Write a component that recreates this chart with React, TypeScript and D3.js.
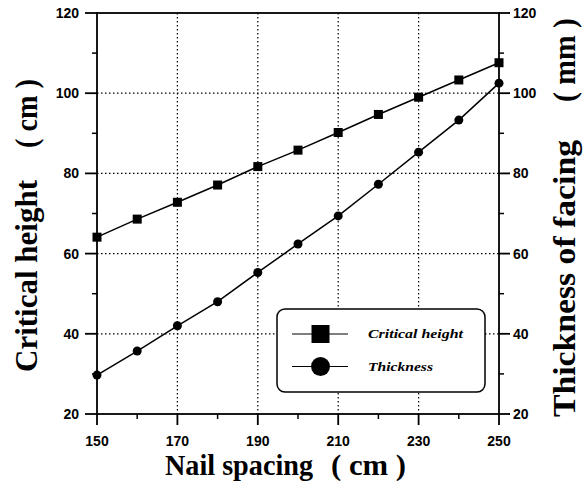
import React from "react";
import * as d3 from "d3";

const spacing = [150, 160, 170, 180, 190, 200, 210, 220, 230, 240, 250];
const criticalHeight = [64.1, 68.6, 72.8, 77.1, 81.7, 85.8, 90.2, 94.7, 99.0, 103.3, 107.6];
const thickness = [29.7, 35.7, 42.0, 48.0, 55.3, 62.4, 69.4, 77.3, 85.3, 93.3, 102.5];
const xMajor = [150, 170, 190, 210, 230, 250];
const xMinor = [160, 180, 200, 220, 240];
const yMajor = [20, 40, 60, 80, 100, 120];
const yMinor = [30, 50, 70, 90, 110];
const gridX = [170, 190, 210, 230];
const gridY = [40, 60, 80, 100];
const legendItems = ["Critical height", "Thickness"];

export default function App() {
  const L = 97, R = 499, T = 13, B = 414;
  const x = d3.scaleLinear().domain([150, 250]).range([L, R]);
  const y = d3.scaleLinear().domain([20, 120]).range([B, T]);
  const line = d3.line<number>().x((_, i) => x(spacing[i])).y((d) => y(d));
  const tickFont = "'Liberation Sans', Arial, sans-serif";
  const serif = "'Liberation Serif', 'Times New Roman', serif";
  const tickLabel = { fontFamily: tickFont, fontWeight: "bold" as const, fontSize: 14 };
  const titleStyle = { fontFamily: serif, fontWeight: "bold" as const, fontSize: 31 };
  const xTitleStyle = { fontFamily: serif, fontWeight: "bold" as const, fontSize: 29 };
  return (
    <svg width={585} height={483} style={{ position: "absolute", left: 0, top: 0, background: "#fff" }}>
      {/* grid */}
      {gridX.map((v) => (
        <line key={"gx" + v} x1={x(v)} x2={x(v)} y1={T} y2={B} stroke="#000" strokeWidth={1.2} strokeDasharray="1.5,2.5" />
      ))}
      {gridY.map((v) => (
        <line key={"gy" + v} x1={L} x2={R} y1={y(v)} y2={y(v)} stroke="#000" strokeWidth={1.2} strokeDasharray="1.5,2.5" />
      ))}
      {/* frame */}
      <rect x={L} y={T} width={R - L} height={B - T} fill="none" stroke="#000" strokeWidth={1.8} />
      {yMajor.map((v) => (
        <g key={"ly" + v}>
          <line x1={L - 12} x2={L} y1={y(v)} y2={y(v)} stroke="#000" strokeWidth={1.8} />
          <line x1={R} x2={R + 11} y1={y(v)} y2={y(v)} stroke="#000" strokeWidth={1.8} />
          <text x={L - 18} y={y(v)} dy="0.36em" textAnchor="end" {...tickLabel}>{v}</text>
          <text x={R + 14} y={y(v)} dy="0.36em" textAnchor="start" {...tickLabel}>{v}</text>
        </g>
      ))}
      {yMinor.map((v) => (
        <g key={"my" + v}>
          <line x1={L - 5} x2={L} y1={y(v)} y2={y(v)} stroke="#000" strokeWidth={1.5} />
          <line x1={R} x2={R + 5} y1={y(v)} y2={y(v)} stroke="#000" strokeWidth={1.5} />
        </g>
      ))}
      {xMajor.map((v) => (
        <g key={"bx" + v}>
          <line x1={x(v)} x2={x(v)} y1={B} y2={B + 11} stroke="#000" strokeWidth={1.8} />
          <text x={x(v)} y={446} textAnchor="middle" {...tickLabel}>{v}</text>
        </g>
      ))}
      {xMinor.map((v) => (
        <line key={"mx" + v} x1={x(v)} x2={x(v)} y1={B} y2={B + 5} stroke="#000" strokeWidth={1.5} />
      ))}
      {/* series */}
      <path d={line(criticalHeight) || ""} fill="none" stroke="#000" strokeWidth={1.5} />
      <path d={line(thickness) || ""} fill="none" stroke="#000" strokeWidth={1.5} />
      {criticalHeight.map((v, i) => (
        <rect key={"s" + i} x={x(spacing[i]) - 4.5} y={y(v) - 4.5} width={9} height={9} fill="#000" />
      ))}
      {thickness.map((v, i) => (
        <circle key={"c" + i} cx={x(spacing[i])} cy={y(v)} r={4.5} fill="#000" />
      ))}
      {/* legend */}
      <rect x={277} y={309} width={208} height={83} rx={8} fill="#fff" stroke="#000" strokeWidth={1.5} />
      {legendItems.map((name, i) => {
        const ly = i === 0 ? 334 : 366.5;
        return (
          <g key={name}>
            <line x1={292} x2={348} y1={ly} y2={ly} stroke="#000" strokeWidth={1.2} />
            {i === 0 ? (
              <rect x={311.5} y={ly - 9} width={18} height={18} fill="#000" />
            ) : (
              <circle cx={320.5} cy={ly} r={9.5} fill="#000" />
            )}
            <text x={368} y={ly} dy="0.35em" fontFamily={serif} fontStyle="italic" fontWeight="bold" fontSize={12}
              textLength={i === 0 ? 95 : 65} lengthAdjust="spacingAndGlyphs">{name}</text>
          </g>
        );
      })}
      {/* axis titles */}
      <text x={165} y={475} {...xTitleStyle} textLength={148} lengthAdjust="spacingAndGlyphs">Nail spacing</text>
      <text x={331} y={475} {...xTitleStyle} textLength={75} lengthAdjust="spacingAndGlyphs">( cm )</text>
      <g transform="translate(37,0)">
        <text transform="translate(0,372) rotate(-90)" {...titleStyle} textLength={192} lengthAdjust="spacingAndGlyphs">Critical height</text>
        <text transform="translate(0,148) rotate(-90)" {...titleStyle} textLength={69} lengthAdjust="spacingAndGlyphs">( cm )</text>
      </g>
      <g transform="translate(575,0)">
        <text transform="translate(0,417) rotate(-90)" {...titleStyle} textLength={277} lengthAdjust="spacingAndGlyphs">Thickness of facing</text>
        <text transform="translate(0,102) rotate(-90)" {...titleStyle} textLength={84} lengthAdjust="spacingAndGlyphs">( mm )</text>
      </g>
    </svg>
  );
}
